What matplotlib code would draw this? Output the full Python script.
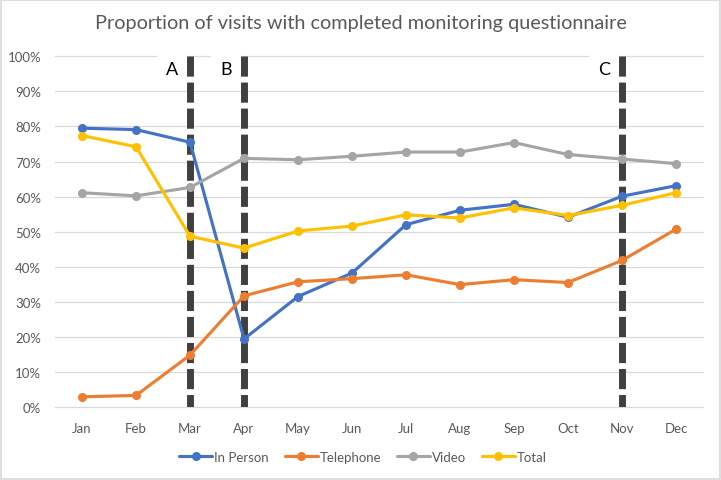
import matplotlib
matplotlib.use("Agg")
import matplotlib.pyplot as plt
from matplotlib.patches import Rectangle
from matplotlib.lines import Line2D

months = ["Jan", "Feb", "Mar", "Apr", "May", "Jun", "Jul", "Aug", "Sep", "Oct", "Nov", "Dec"]
in_person = [79.5, 79.1, 75.5, 19.4, 31.5, 38.2, 52.0, 56.1, 57.8, 54.1, 60.1, 63.1]
telephone = [2.9, 3.3, 14.8, 31.7, 35.7, 36.6, 37.7, 34.9, 36.3, 35.5, 41.8, 50.7]
video = [61.1, 60.2, 62.6, 70.9, 70.5, 71.5, 72.7, 72.7, 75.4, 72.0, 70.7, 69.4]
total = [77.4, 74.2, 48.7, 45.3, 50.2, 51.6, 54.8, 53.9, 56.8, 54.6, 57.5, 61.1]
series_names = ["In Person", "Telephone", "Video", "Total"]
series_colors = ["#4472C4", "#ED7D31", "#A5A5A5", "#FFC000"]
events = [("A", 2), ("B", 3), ("C", 10)]
y_ticks = [0, 10, 20, 30, 40, 50, 60, 70, 80, 90, 100]
title = "Proportion of visits with completed monitoring questionnaire"

plt.rcParams['font.family'] = ['Lato', 'DejaVu Sans']

fig = plt.figure(figsize=(7.21, 4.81), dpi=100)
ax = fig.add_axes([55/721, 1 - 408/481, (703 - 55)/721, (408 - 57.3)/481])

x = list(range(len(months)))
for vals, name, col in zip([in_person, telephone, video, total], series_names, series_colors):
    ax.plot(x, vals, color=col, lw=2.25, marker='o', ms=5.5, label=name, zorder=3,
            solid_capstyle='round')

# event dashed lines and labels
for lab, idx in events:
    ax.add_patch(Rectangle((idx - 0.62, 93), 0.58, 8.5, facecolor='white', edgecolor='none',
                           zorder=1.5, clip_on=False))
    ln = Line2D([idx, idx], [100, 0], color='#404040', lw=5, zorder=2.5,
                solid_capstyle='butt', dash_capstyle='butt')
    ln.set_dashes((2.9, 0.85))
    ax.add_line(ln)
    ax.text(idx - 0.33, 96.3, lab, ha='center', va='center', fontsize=13, color='black',
            zorder=4)

ax.set_xlim(-0.5, 11.5)
ax.set_ylim(0, 100)
ax.set_xticks(x)
ax.set_xticklabels(months)
ax.set_yticks(y_ticks)
ax.set_yticklabels([f"{v}%" for v in y_ticks])
ax.tick_params(axis='both', length=0, labelsize=9.5, labelcolor='#595959')
ax.tick_params(axis='y', pad=10)
ax.tick_params(axis='x', pad=10.5)
ax.yaxis.grid(True, color='#D9D9D9', lw=0.9, zorder=0)
for gl in ax.get_ygridlines():
    gl.set_clip_on(False)
ax.set_axisbelow(True)
for s in ax.spines.values():
    s.set_visible(False)

t = fig.text(0.5, 1 - 23/481, title, ha='center', va='center', fontsize=14, color='#595959')
fig.canvas.draw()
w = t.get_window_extent().width
t.set_fontsize(14 * 536 / w)

leg = fig.legend(loc='center', bbox_to_anchor=(363/721, 1 - 458/481), ncol=4, frameon=False,
                 fontsize=9.5, handlelength=2.5, handletextpad=0.15, columnspacing=1.2,
                 labelcolor='#595959')

fig.add_artist(Rectangle((0.002, 0.002), 0.996, 0.996, transform=fig.transFigure,
                         facecolor='none', edgecolor='#D9D9D9', lw=1.2))

fig.savefig("out.png", dpi=100)
